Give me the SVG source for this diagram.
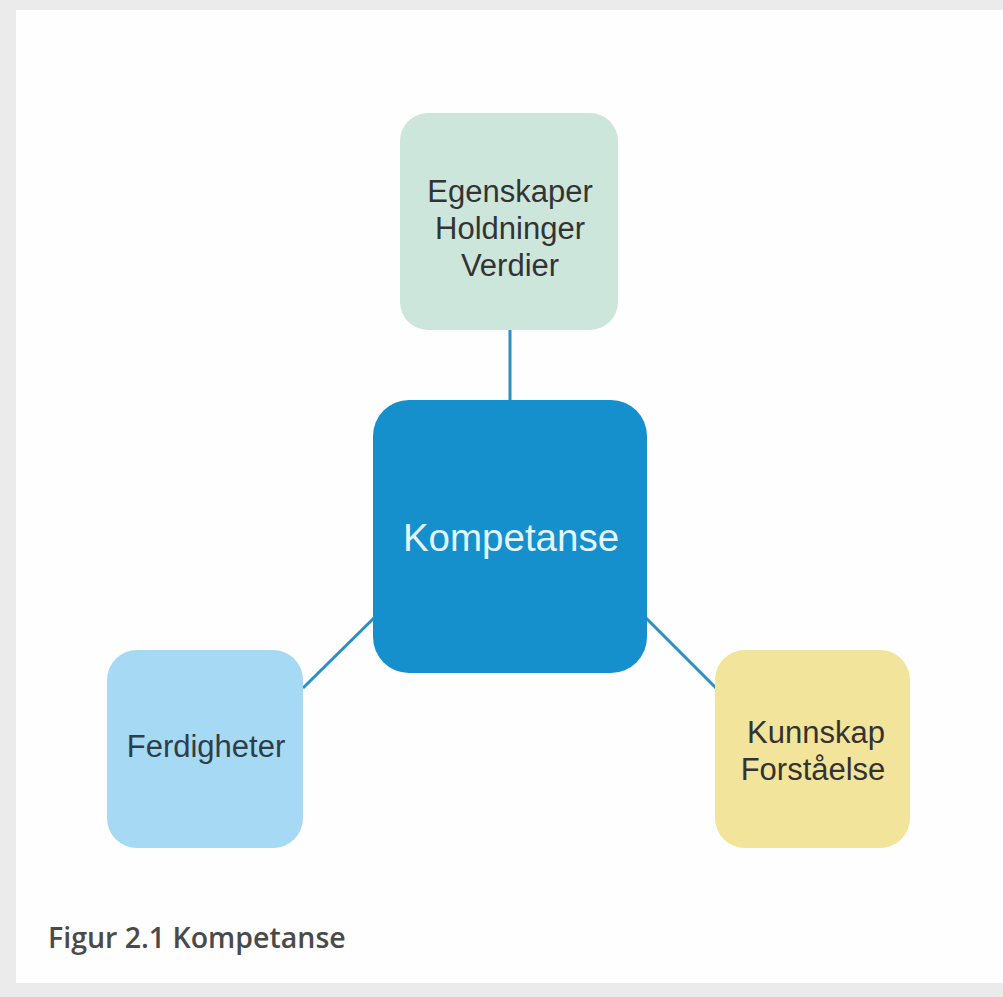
<svg xmlns="http://www.w3.org/2000/svg" width="1003" height="997" viewBox="0 0 1003 997">
<style>
.lbl{font-family:"Liberation Sans",Arial,sans-serif;font-size:31px;fill:#333333;text-anchor:middle}
.conn{stroke:#2a8fc2;stroke-width:3;fill:none}
</style>
<rect x="0" y="0" width="1003" height="997" fill="#ebebeb"/>
<rect x="16" y="10" width="987" height="973" fill="#fefefe"/>
<g id="connectors">
<line class="conn" x1="510" y1="330" x2="510" y2="401"/>
<line class="conn" x1="375" y1="617" x2="303" y2="688"/>
<line class="conn" x1="645" y1="617" x2="716" y2="688"/>
</g>
<g id="node-egenskaper">
<rect x="400" y="113" width="218" height="217" rx="28" fill="#cde6dc"/>
<text class="lbl" x="510" y="202">Egenskaper</text>
<text class="lbl" x="510" y="239">Holdninger</text>
<text class="lbl" x="510" y="276">Verdier</text>
</g>
<g id="node-kompetanse">
<rect x="373" y="400" width="274" height="273" rx="36" fill="#1590cd"/>
<text x="511" y="551" font-family="Liberation Sans, Arial, sans-serif" font-size="38.5" fill="#e3f5fd" text-anchor="middle">Kompetanse</text>
</g>
<g id="node-ferdigheter">
<rect x="107" y="650" width="196" height="198" rx="30" fill="#a6d9f3"/>
<text class="lbl" x="206" y="757" style="fill:#2f3d47">Ferdigheter</text>
</g>
<g id="node-kunnskap">
<rect x="715" y="650" width="195" height="198" rx="30" fill="#f2e49b"/>
<text class="lbl" x="816" y="743">Kunnskap</text>
<text class="lbl" x="813" y="780">Forståelse</text>
</g>
<g id="caption">
<text x="48" y="948" font-family="Open Sans, sans-serif" font-weight="600" font-size="28.5" fill="#4a4a4a">Figur 2.1 Kompetanse</text>
</g>
</svg>
